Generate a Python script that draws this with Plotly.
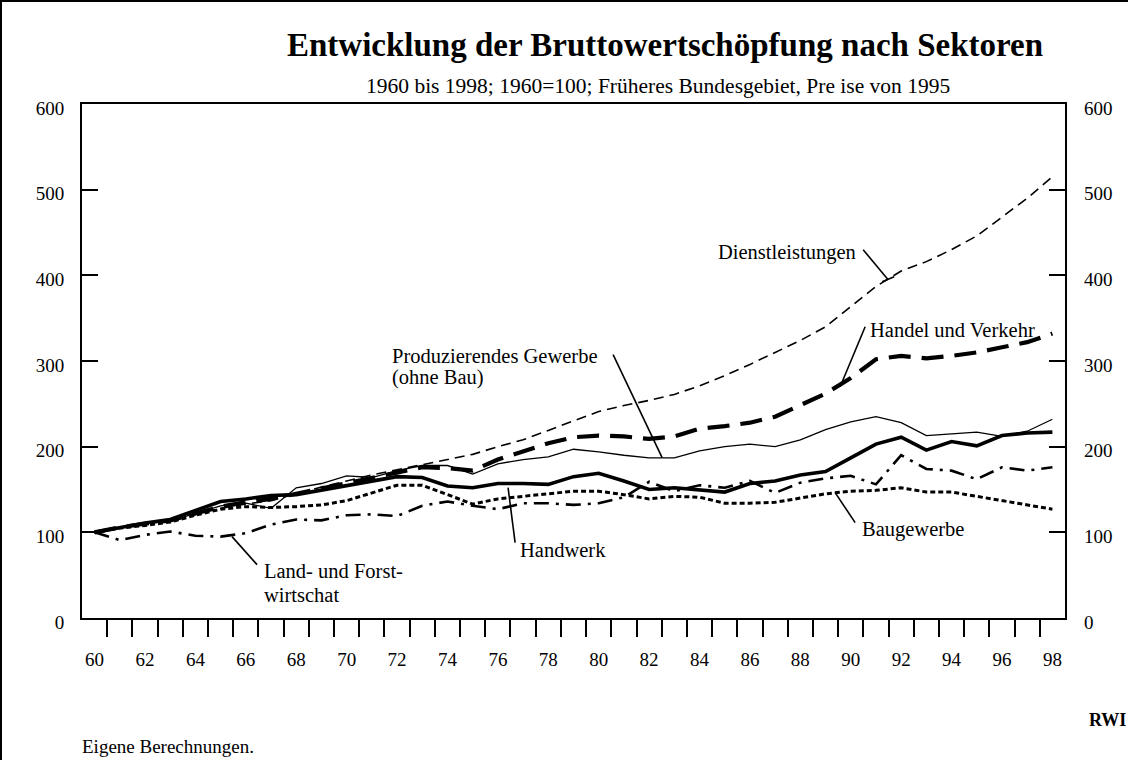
import plotly.graph_objects as go

# ---------------- data ----------------
years = list(range(1960, 1999))

dienstleistungen = [100, 105, 110, 115, 122, 128, 133, 137, 145, 153,
                    160, 167, 173, 179, 185, 191, 200, 208, 219, 230,
                    241, 248, 254, 261, 271, 283, 296, 310, 324, 340,
                    363, 387, 405, 416, 430, 446, 468, 490, 515]
handel_verkehr = [100, 106, 110, 114, 122, 130, 135, 139, 145, 151,
                  157, 164, 170, 176, 175, 172, 185, 195, 204, 211,
                  213, 212, 209, 212, 221, 224, 228, 235, 248, 262,
                  280, 302, 306, 303, 306, 310, 316, 322, 332]
produzierendes = [100, 106, 110, 113, 122, 131, 134, 128, 152, 157,
                  166, 164, 172, 178, 178, 168, 180, 185, 188, 197,
                  194, 190, 187, 187, 195, 200, 203, 200, 208, 220,
                  229, 235, 228, 213, 215, 217, 212, 218, 232]
handwerk = [100, 106, 111, 115, 126, 136, 139, 143, 144, 149,
            154, 160, 165, 164, 154, 152, 157, 157, 156, 165,
            169, 160, 150, 152, 150, 147, 157, 160, 167, 171,
            187, 203, 211, 196, 206, 201, 213, 216, 217]
baugewerbe = [100, 105, 108, 112, 120, 127, 130, 129, 130, 132,
              137, 146, 155, 155, 144, 133, 139, 142, 145, 148,
              148, 144, 139, 142, 141, 134, 134, 135, 140, 145,
              148, 149, 152, 147, 147, 142, 137, 132, 127]
land_forst = [100, 91, 97, 101, 96, 95, 99, 109, 115, 114,
              120, 121, 119, 131, 136, 131, 127, 134, 134, 132,
              134, 141, 159, 148, 155, 152, 160, 146, 158, 163,
              166, 156, 190, 174, 172, 162, 176, 172, 176]

x_label_years = years[::2]
x_label_text = ["60", "62", "64", "66", "68", "70", "72", "74", "76", "78",
                "80", "82", "84", "86", "88", "90", "92", "94", "96", "98"]
y_tick_vals = [0, 100, 200, 300, 400, 500, 600]

title_text = "Entwicklung der Bruttowertschöpfung nach Sektoren"
subtitle_text = "1960 bis 1998; 1960=100; Früheres Bundesgebiet, Pre ise von 1995"
source_text = "Eigene Berechnungen."

# ---------------- figure ----------------
FONT = "Liberation Serif, Times New Roman, serif"
W, H = 1128, 760
ML, MR, MT, MB = 82, 63, 104, 142

fig = go.Figure()

series = [
    ("Dienstleistungen", dienstleistungen, dict(color="black", width=1.6, dash="10px,6px")),
    ("Handel und Verkehr", handel_verkehr, dict(color="black", width=4.2, dash="22px,11px")),
    ("Produzierendes Gewerbe", produzierendes, dict(color="black", width=1.3)),
    ("Handwerk", handwerk, dict(color="black", width=3.6)),
    ("Baugewerbe", baugewerbe, dict(color="black", width=3, dash="5px,3px")),
    ("Land- und Forstwirtschaft", land_forst, dict(color="black", width=2.6, dash="15px,7px,3px,7px")),
]
for name, vals, line in series:
    fig.add_trace(go.Scatter(x=years, y=vals, mode="lines", name=name,
                             line=line, showlegend=False, hoverinfo="skip"))

# invisible trace to activate secondary axes (right axis + x labels)
fig.add_trace(go.Scatter(x=years, y=dienstleistungen, xaxis="x2", yaxis="y2",
                         mode="lines", line=dict(width=0, color="rgba(0,0,0,0)"),
                         showlegend=False, hoverinfo="skip"))

xr = [1959.5, 1998.5]
tickfont = dict(family=FONT, size=19, color="black")

fig.update_layout(
    width=W, height=H,
    margin=dict(l=ML, r=MR, t=MT, b=MB, pad=0),
    paper_bgcolor="white", plot_bgcolor="white",
    xaxis=dict(range=xr, tickmode="array",
               tickvals=[y + 0.5 for y in years[:-1]],
               ticks="outside", ticklen=17, tickwidth=1.5, tickcolor="black",
               showticklabels=False, showgrid=False, zeroline=False,
               showline=True, linecolor="black", linewidth=2, mirror=True),
    xaxis2=dict(range=xr, overlaying="x", anchor="y2", side="bottom",
                tickmode="array", tickvals=x_label_years, ticktext=x_label_text,
                ticks="", ticklabelstandoff=28, tickfont=tickfont,
                showgrid=False, zeroline=False, showline=False),
    yaxis=dict(range=[0, 600], tickmode="array", tickvals=y_tick_vals,
               ticks="inside", ticklen=16, tickwidth=2, tickcolor="black",
               ticklabelstandoff=12, ticklabelshift=4, tickfont=tickfont,
               showgrid=False, zeroline=False,
               showline=True, linecolor="black", linewidth=2, mirror=True),
    yaxis2=dict(range=[0, 600], overlaying="y", anchor="x2", side="right",
                tickmode="array", tickvals=y_tick_vals,
                ticks="inside", ticklen=16, tickwidth=2, tickcolor="black",
                ticklabelstandoff=18, ticklabelshift=4, tickfont=tickfont,
                showgrid=False, zeroline=False, showline=False),
)

PW = W - ML - MR
PH = H - MT - MB


def px2paper_x(px):
    return (px - ML) / PW


def px2paper_y(py):
    return (H - MB - py) / PH


def px2yr(px):
    return 1960 + (px - 94.6) / 25.2


def px2val(py):
    return (618.4 - py) / 0.857


annots = []
annots.append(dict(text="<b>" + title_text + "</b>", xref="paper", yref="paper",
                   x=px2paper_x(665), y=px2paper_y(45), xanchor="center", yanchor="middle",
                   showarrow=False, font=dict(family=FONT, size=33, color="black")))
annots.append(dict(text=subtitle_text, xref="paper", yref="paper",
                   x=px2paper_x(658), y=px2paper_y(86), xanchor="center", yanchor="middle",
                   showarrow=False, font=dict(family=FONT, size=21.5, color="black")))
annots.append(dict(text=source_text, xref="paper", yref="paper",
                   x=px2paper_x(80), y=px2paper_y(746), xanchor="left", yanchor="middle",
                   showarrow=False, font=dict(family=FONT, size=19, color="black")))
annots.append(dict(text="<b>RWI</b>", xref="paper", yref="paper",
                   x=px2paper_x(1087), y=px2paper_y(720), xanchor="left", yanchor="middle",
                   showarrow=False, font=dict(family=FONT, size=18, color="black")))

lab_font = dict(family=FONT, size=20.5, color="black")
labels = [
    ("Dienstleistungen", 858, 253, "right"),
    ("Handel und Verkehr", 868, 330, "left"),
    ("Produzierendes Gewerbe", 390, 356, "left"),
    ("(ohne Bau)", 390, 378, "left"),
    ("Handwerk", 518, 550, "left"),
    ("Baugewerbe", 860, 530, "left"),
    ("Land- und Forst-", 262, 571, "left"),
    ("wirtschat", 262, 595, "left"),
]
for txt, px, py, anc in labels:
    annots.append(dict(text=txt, xref="x", yref="y", x=px2yr(px), y=px2val(py),
                       xanchor=anc, yanchor="middle", align="left", showarrow=False,
                       font=lab_font))
fig.update_layout(annotations=annots)

leaders = [
    ((863, 250), (888, 280)),
    ((865, 327), (840, 387)),
    ((613, 355), (662, 458)),
    ((508, 488), (515, 543)),
    ((835, 493), (855, 523)),
    ((232, 537), (257, 565)),
]
shapes = []
for (x0, y0), (x1, y1) in leaders:
    shapes.append(dict(type="line", xref="x", yref="y",
                       x0=px2yr(x0), y0=px2val(y0), x1=px2yr(x1), y1=px2val(y1),
                       line=dict(color="black", width=1.6)))
shapes.append(dict(type="line", xref="x", yref="y",
                   x0=px2yr(882), y0=px2val(282), x1=px2yr(894), y1=px2val(277),
                   line=dict(color="black", width=1.6)))
shapes.append(dict(type="line", xref="paper", yref="paper",
                   x0=px2paper_x(0), y0=px2paper_y(1), x1=px2paper_x(W), y1=px2paper_y(1),
                   line=dict(color="black", width=2)))
shapes.append(dict(type="line", xref="paper", yref="paper",
                   x0=px2paper_x(1), y0=px2paper_y(0), x1=px2paper_x(1), y1=px2paper_y(H),
                   line=dict(color="black", width=2)))
fig.update_layout(shapes=shapes)

fig.write_html("out.html", config={"displayModeBar": False},
               post_script="document.body.style.margin='0';document.body.style.overflow='hidden';")
